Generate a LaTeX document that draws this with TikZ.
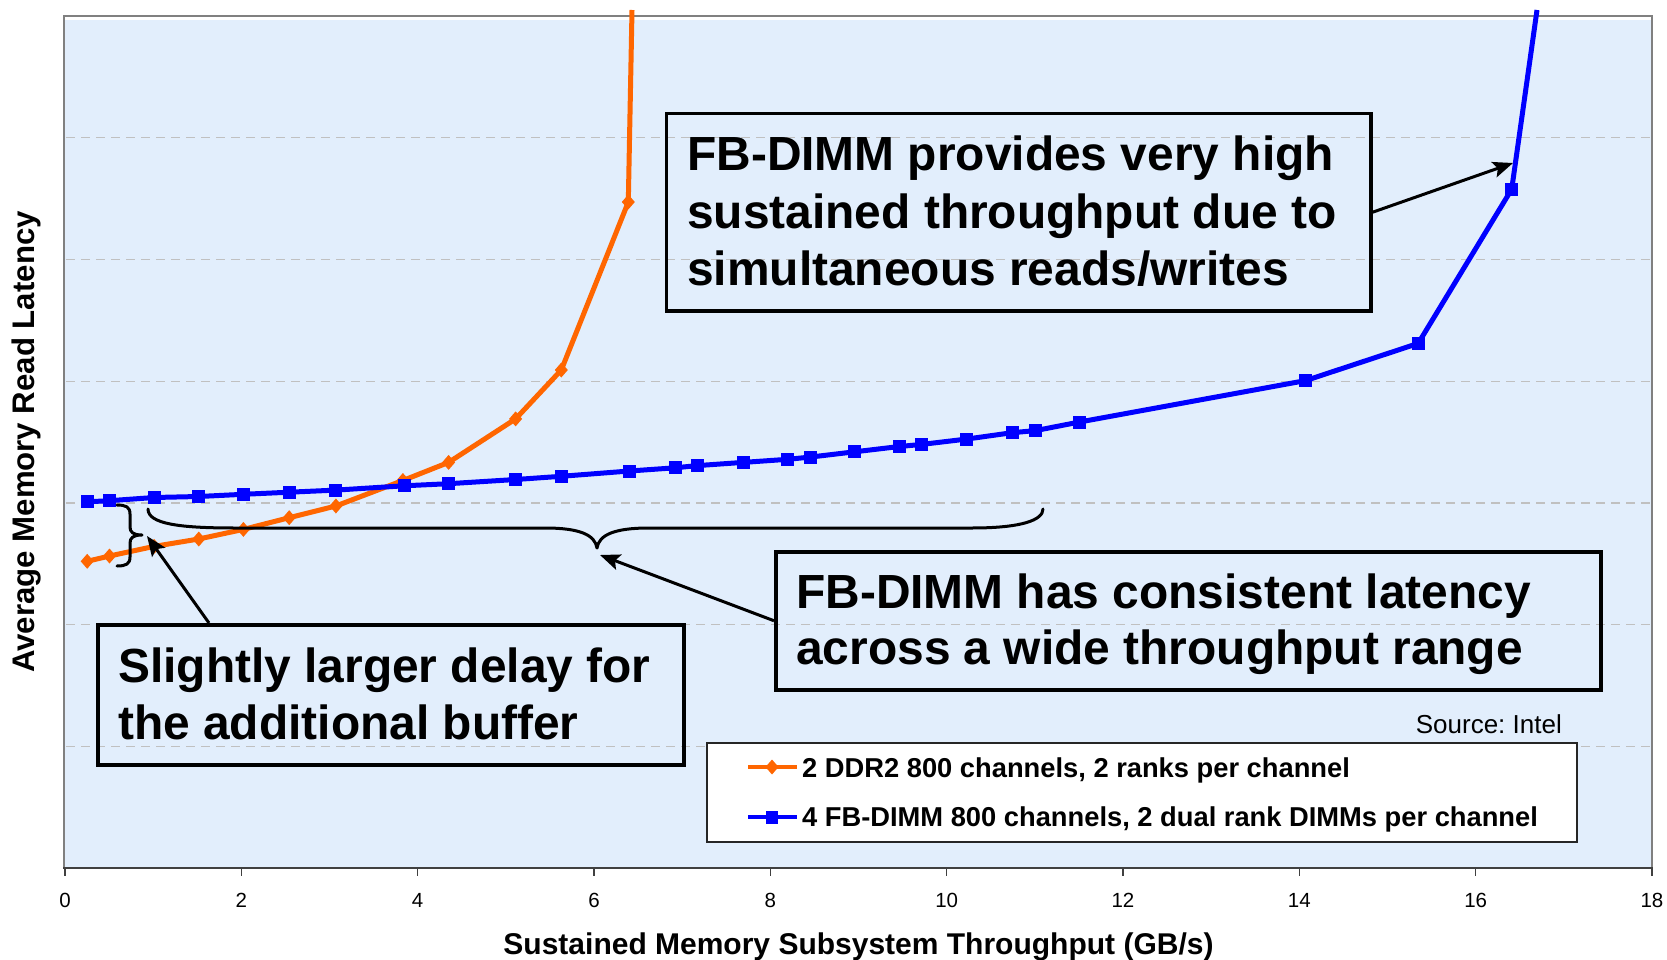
\documentclass[tikz,border=0pt]{standalone}
\usepackage{fontspec}
\setmainfont{Liberation Sans}
\usetikzlibrary{arrows.meta}
\definecolor{plotbg}{RGB}{226,238,252}
\definecolor{ddr}{RGB}{255,102,0}
\definecolor{fbd}{RGB}{0,0,255}
\definecolor{gridc}{RGB}{192,192,192}
\definecolor{framec}{RGB}{128,128,128}
\definecolor{axisc}{RGB}{64,64,64}
\frenchspacing
\begin{document}
\begin{tikzpicture}[x=1pt,y=-1pt,
  callout/.style={draw=black, line width=3.5pt, inner sep=0pt, anchor=north west},
  calltext/.style={anchor=base west, inner sep=0pt, font=\fontsize{47.9}{57}\selectfont\bfseries},
  legtext/.style={anchor=base west, inner sep=0pt, font=\fontsize{27.3}{32}\selectfont\bfseries},
  ticktext/.style={anchor=base, inner sep=0pt, font=\fontsize{20.5}{24}\selectfont},
  axistitle/.style={anchor=base, inner sep=0pt, font=\fontsize{30}{36}\selectfont\bfseries},
  pointer/.style={line width=3pt, -{Stealth[length=20pt,width=16pt,inset=4pt]}},
  bracepath/.style={line width=3pt, line cap=round, line join=round},
  gridline/.style={gridc, line width=1.2pt, dash pattern=on 9pt off 6pt},
  ddrline/.style={ddr, line width=5pt, line join=round},
  fbdline/.style={fbd, line width=5pt, line join=round}]

% canvas
\useasboundingbox (0,0) rectangle (1667,960);
\fill[white] (0,0) rectangle (1667,960);

% plot area
\fill[plotbg] (65,20.5) rectangle (1651,867);
\foreach \gy in {137.7,259.4,381.1,502.9,624.6,746.3}
  \draw[gridline] (66,\gy) -- (1650,\gy);
\draw[framec, line width=2pt] (64,868) -- (64,16) -- (1652,16) -- (1652,868);
\draw[axisc, line width=2pt] (63,868) -- (1653,868);

% x ticks and labels
\foreach \k in {0,...,9} {
  \pgfmathsetmacro{\tx}{65+176.33*\k}
  \pgfmathtruncatemacro{\tv}{2*\k}
  \draw[axisc, line width=1.5pt] (\tx,868) -- (\tx,876);
  \node[ticktext] (tick\k) at (\tx,907) {\tv};
}

% axis titles
\node[axistitle, rotate=90, font=\fontsize{31.2}{36}\selectfont\bfseries] (ylab) at (34,442) {Average Memory Read Latency};
\node[axistitle] (xlab) at (858.5,954) {Sustained Memory Subsystem Throughput (GB/s)};

% DDR2 series
\draw[ddrline] (87.2,561.3) -- (109.5,556.0) -- (154.1,546.4) -- (198.8,539.0) -- (243.4,529.4)
  -- (289.2,517.7) -- (335.9,506.0) -- (402.9,480.5) -- (448.6,462.4) -- (515.6,418.9)
  -- (561.3,370.0) -- (628.3,202.0) -- (632,10);
\foreach \px/\py in {87.2/561.3, 109.5/556.0, 154.1/546.4, 198.8/539.0, 243.4/529.4,
  289.2/517.7, 335.9/506.0, 402.9/480.5, 448.6/462.4, 515.6/418.9, 561.3/370.0, 628.3/202.0}
  \fill[ddr] (\px,\py-7.5) -- (\px+6.5,\py) -- (\px,\py+7.5) -- (\px-6.5,\py) -- cycle;

% FB-DIMM series
\draw[fbdline] (87.2,501.8) -- (109.5,500.7) -- (154.1,497.5) -- (198.8,496.5) -- (243.4,494.3)
  -- (289.2,492.2) -- (335.9,490.1) -- (404.0,485.8) -- (448.6,483.7) -- (515.6,479.5)
  -- (561.3,476.3) -- (629.4,471.0) -- (675.1,467.8) -- (697.4,465.6) -- (743.1,462.4)
  -- (787.8,459.3) -- (810.1,457.1) -- (854.7,451.8) -- (899.4,446.5) -- (921.7,444.4)
  -- (966.4,439.1) -- (1012.1,432.7) -- (1035.5,430.6) -- (1079.0,422.1) -- (1305.5,380.6)
  -- (1418.2,343.4) -- (1511.7,189.2) -- (1537,10);
\foreach \px/\py in {87.2/501.8, 109.5/500.7, 154.1/497.5, 198.8/496.5, 243.4/494.3,
  289.2/492.2, 335.9/490.1, 404.0/485.8, 448.6/483.7, 515.6/479.5, 561.3/476.3,
  629.4/471.0, 675.1/467.8, 697.4/465.6, 743.1/462.4, 787.8/459.3, 810.1/457.1,
  854.7/451.8, 899.4/446.5, 921.7/444.4, 966.4/439.1, 1012.1/432.7, 1035.5/430.6,
  1079.0/422.1, 1305.5/380.6, 1418.2/343.4, 1511.7/189.2}
  \fill[fbd] (\px-6.5,\py-6.5) rectangle (\px+6.5,\py+6.5);

% braces
\draw[bracepath] (117,505) .. controls (126,505) and (130,507) .. (130,514) -- (130,527)
  .. controls (130,532) and (133,535) .. (142,535)
  .. controls (133,535) and (130,538) .. (130,543) -- (130,557)
  .. controls (130,564) and (126,566) .. (117,566);
\draw[bracepath] (148,509) .. controls (148,524) and (180,528) .. (235,528) -- (545,528)
  .. controls (580,528) and (595,535) .. (597,548)
  .. controls (599,535) and (614,528) .. (649,528) -- (972,528)
  .. controls (1022,528) and (1043,520) .. (1043,509);

% callout boxes
\node[callout, minimum width=704.4pt, minimum height=197pt] (box1) at (664.6,112) {};
\node[callout, minimum width=825pt, minimum height=138pt] (box2) at (774,550) {};
\node[callout, minimum width=586pt, minimum height=140pt] (box3) at (96,623) {};

\node[calltext] (t1a) at (687,171) {FB-DIMM provides very high};
\node[calltext] (t1b) at (687,228) {sustained throughput due to};
\node[calltext] (t1c) at (687,285) {simultaneous reads/writes};
\node[calltext] (t2a) at (796,608) {FB-DIMM has consistent latency};
\node[calltext] (t2b) at (796,664) {across a wide throughput range};
\node[calltext] (t3a) at (118,682) {Slightly larger delay for};
\node[calltext] (t3b) at (118,739) {the additional buffer};

% pointers
\coordinate (tip1) at (1513,163);
\coordinate (tip2) at (600,555);
\coordinate (tip3) at (147,536);
\coordinate (foot3) at (209,0);
\draw[pointer] (box1.east) -- (tip1);
\draw[pointer] (box2.west) -- (tip2);
\draw[pointer] (foot3 |- box3.north) -- (tip3);

% source note and legend
\node[anchor=base east, inner sep=0pt, font=\fontsize{26}{31}\selectfont] (src) at (1562,733) {Source: Intel};
\node[draw=black!85, fill=white, line width=1.5pt, inner sep=0pt, anchor=north west,
  minimum width=870pt, minimum height=99pt] (legend) at (706,742) {};
\draw[ddr, line width=4pt] (748,767) -- (797,767);
\fill[ddr] (772,759.5) -- (778.5,767) -- (772,774.5) -- (765.5,767) -- cycle;
\draw[fbd, line width=4pt] (748,817) -- (797,817);
\fill[fbd] (766,810.5) rectangle (778,823.5);
\node[legtext] (leg1) at (802,777) {2 DDR2 800 channels, 2 ranks per channel};
\node[legtext] (leg2) at (802,826) {4 FB-DIMM 800 channels, 2 dual rank DIMMs per channel};
\end{tikzpicture}
\end{document}
